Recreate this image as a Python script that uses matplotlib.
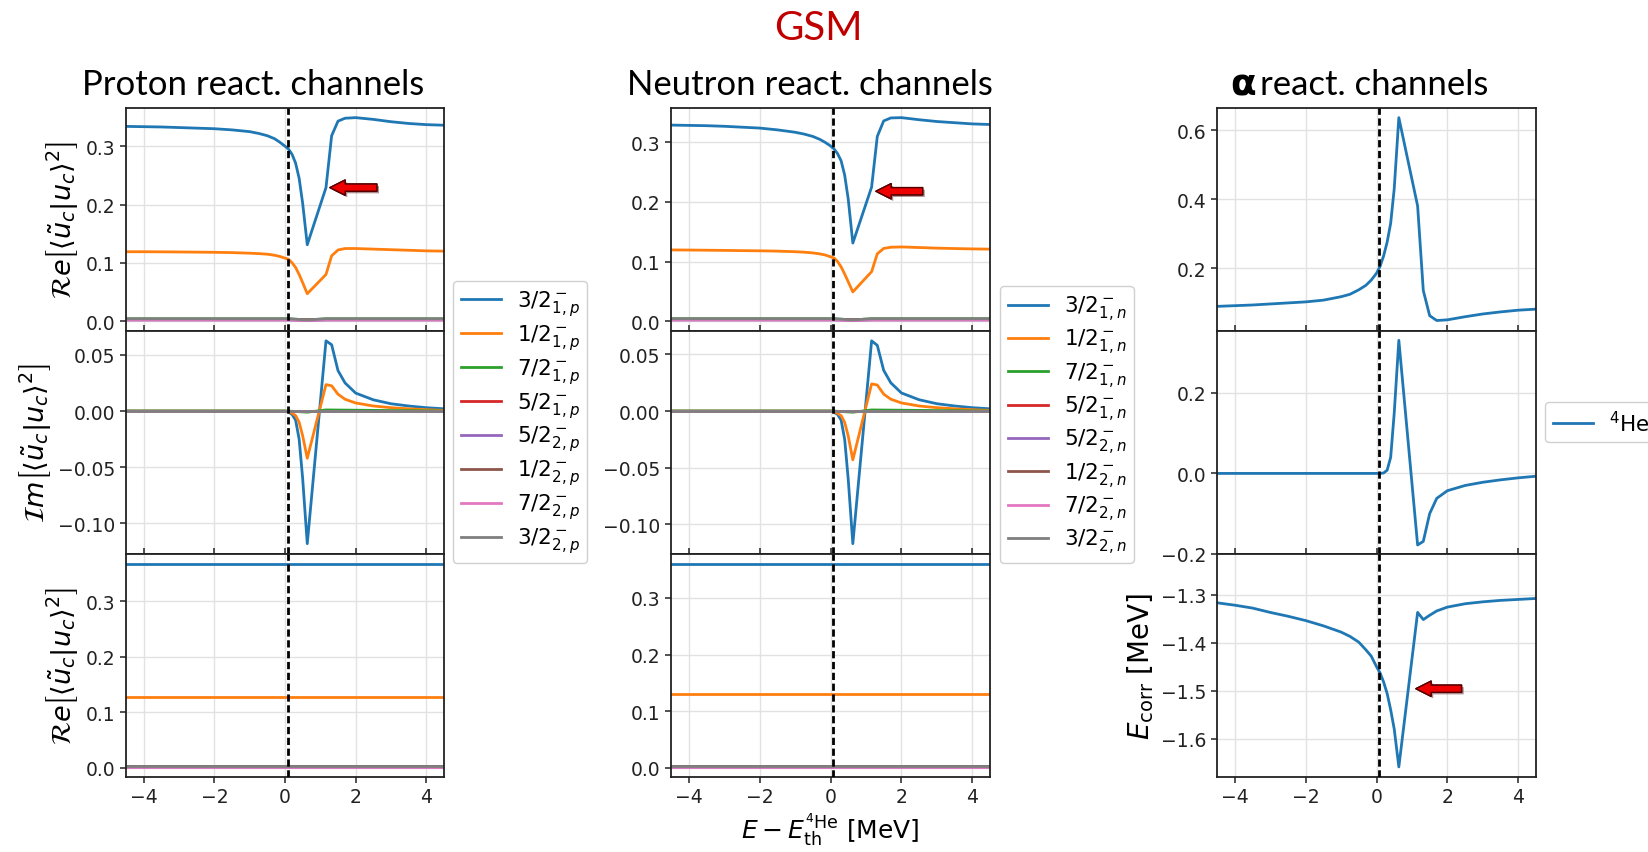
import matplotlib
matplotlib.use("Agg")
import matplotlib.pyplot as plt
import matplotlib.patheffects as pe

W, H = 1648, 853

# ---------------- data ----------------
x_e = [-4.5, -4.0, -3.5, -3.0, -2.5, -2.0, -1.5, -1.0, -0.75, -0.5, -0.3, -0.15,
       0.0, 0.1, 0.2, 0.3, 0.4, 0.5, 0.63, 1.16, 1.32, 1.5, 1.7, 2.0, 2.5, 3.0,
       3.5, 4.0, 4.5]

# proton channels, Re (top)
p_re_32_1 = [0.334, 0.3335, 0.333, 0.332, 0.331, 0.330, 0.328, 0.325, 0.322, 0.318,
             0.313, 0.307, 0.300, 0.295, 0.286, 0.271, 0.245, 0.202, 0.131, 0.229,
             0.318, 0.343, 0.348, 0.349, 0.346, 0.342, 0.339, 0.337, 0.336]
p_re_12_1 = [0.119, 0.119, 0.1188, 0.1186, 0.1183, 0.118, 0.1175, 0.1165, 0.1158,
             0.1148, 0.113, 0.111, 0.108, 0.106, 0.100, 0.092, 0.080, 0.066, 0.047,
             0.080, 0.112, 0.122, 0.1245, 0.1245, 0.1235, 0.1225, 0.1215, 0.1205, 0.120]
# proton channels, Im (middle)
p_im_32_1 = [0, 0, 0, 0, 0, 0, 0, 0, 0, 0, 0, 0, 0, -0.001, -0.003, -0.008, -0.025,
             -0.060, -0.118, 0.0625, 0.059, 0.036, 0.025, 0.016, 0.010, 0.0065,
             0.0045, 0.003, 0.002]
p_im_12_1 = [0, 0, 0, 0, 0, 0, 0, 0, 0, 0, 0, 0, 0, -0.0005, -0.002, -0.004, -0.010,
             -0.022, -0.042, 0.0235, 0.0225, 0.015, 0.0105, 0.0072, 0.0045, 0.003,
             0.002, 0.0012, 0.0006]

# neutron channels
n_re_32_1 = [0.329, 0.3285, 0.328, 0.327, 0.3255, 0.324, 0.321, 0.317, 0.314, 0.310,
             0.305, 0.300, 0.294, 0.289, 0.281, 0.269, 0.245, 0.205, 0.131, 0.225,
             0.310, 0.336, 0.341, 0.3415, 0.338, 0.335, 0.333, 0.331, 0.330]
n_re_12_1 = [0.1195, 0.1193, 0.119, 0.1187, 0.1183, 0.118, 0.1175, 0.1165, 0.1157,
             0.1145, 0.1128, 0.111, 0.108, 0.106, 0.100, 0.091, 0.079, 0.066, 0.049,
             0.083, 0.113, 0.122, 0.124, 0.1245, 0.1235, 0.1225, 0.1218, 0.1212, 0.1208]
n_im_32_1 = [0, 0, 0, 0, 0, 0, 0, 0, 0, 0, 0, 0, 0, -0.001, -0.003, -0.008, -0.025,
             -0.060, -0.117, 0.062, 0.058, 0.036, 0.025, 0.016, 0.010, 0.0065,
             0.0045, 0.003, 0.002]
n_im_12_1 = [0, 0, 0, 0, 0, 0, 0, 0, 0, 0, 0, 0, 0, -0.0005, -0.002, -0.004, -0.010,
             -0.022, -0.043, 0.024, 0.023, 0.015, 0.0105, 0.0072, 0.0045, 0.003,
             0.002, 0.0012, 0.0006]

# alpha channel
a_re = [0.089, 0.091, 0.093, 0.096, 0.099, 0.102, 0.107, 0.117, 0.124, 0.137, 0.150,
        0.165, 0.185, 0.205, 0.235, 0.275, 0.330, 0.430, 0.636, 0.380, 0.135, 0.062,
        0.048, 0.050, 0.059, 0.067, 0.073, 0.078, 0.081]
a_im = [0, 0, 0, 0, 0, 0, 0, 0, 0, 0, 0, 0, 0, 0, 0.001, 0.008, 0.040, 0.150, 0.331,
        -0.178, -0.169, -0.100, -0.062, -0.043, -0.030, -0.022, -0.016, -0.011, -0.007]
a_ecorr = [-1.317, -1.322, -1.328, -1.337, -1.345, -1.354, -1.365, -1.378, -1.387,
           -1.399, -1.415, -1.428, -1.450, -1.463, -1.482, -1.506, -1.540, -1.580,
           -1.659, -1.337, -1.352, -1.343, -1.334, -1.326, -1.319, -1.315, -1.312,
           -1.310, -1.308]

# small channels (nearly zero)
x_minor = [-4.5, 0.1, 0.63, 1.16, 4.5]
re_small = {  # 7/2_1, 5/2_1, 5/2_2, 1/2_2, 7/2_2, 3/2_2
    "g": [0.004, 0.004, 0.002, 0.004, 0.004],
    "r": [0.003, 0.003, 0.002, 0.003, 0.003],
    "pu": [0.002, 0.002, 0.001, 0.002, 0.002],
    "b": [0.003, 0.003, 0.002, 0.003, 0.003],
    "pi": [0.002, 0.002, 0.001, 0.002, 0.002],
    "gr": [0.004, 0.004, 0.002, 0.004, 0.004],
}
im_small_green = [0.0, 0.0, -0.001, 0.001, 0.0]
im_small_zero = [0.0, 0.0, 0.0, 0.0, 0.0]

# bottom panels: flat values
x_flat = [-4.5, 4.5]
p_flat = [0.367, 0.128, 0.004, 0.003, 0.002, 0.003, 0.002, 0.003]
n_flat = [0.360, 0.130, 0.004, 0.003, 0.002, 0.003, 0.002, 0.003]

p_labels = [r"$3/2^-_{1,p}$", r"$1/2^-_{1,p}$", r"$7/2^-_{1,p}$", r"$5/2^-_{1,p}$",
            r"$5/2^-_{2,p}$", r"$1/2^-_{2,p}$", r"$7/2^-_{2,p}$", r"$3/2^-_{2,p}$"]
n_labels = [r"$3/2^-_{1,n}$", r"$1/2^-_{1,n}$", r"$7/2^-_{1,n}$", r"$5/2^-_{1,n}$",
            r"$5/2^-_{2,n}$", r"$1/2^-_{2,n}$", r"$7/2^-_{2,n}$", r"$3/2^-_{2,n}$"]
a_label = r"$^4$He"

x_threshold = 0.08
x_ticks = [-4, -2, 0, 2, 4]

# ---------------- styling ----------------
colors = ["#1f77b4", "#ff7f0e", "#2ca02c", "#d62728", "#9467bd", "#8c564b",
          "#e377c2", "#7f7f7f"]
LW = 2.0
TICK_FS = 13.5
LBL_FS = 19.5

fig = plt.figure(figsize=(W / 100, H / 100), dpi=100)


def make_col(left, right, top, bottom):
    axes = []
    h = (bottom - top) / 3
    for i in range(3):
        t = top + i * h
        ax = fig.add_axes([left / W, 1 - (t + h) / H, (right - left) / W, h / H])
        ax.set_xlim(-4.5, 4.5)
        ax.set_xticks(x_ticks)
        ax.grid(True, color="#e2e2e2", lw=1.0)
        ax.set_axisbelow(True)
        for s in ax.spines.values():
            s.set_color("#222222")
            s.set_linewidth(1.3)
        ax.tick_params(labelsize=TICK_FS, length=4, width=1.1, colors="#222222")
        if i < 2:
            ax.tick_params(axis="x", labelbottom=False, direction="in")
        ax.axvline(x_threshold, color="k", ls=(0, (2.6, 1.3)), lw=2.0, zorder=5)
        axes.append(ax)
    return axes


def draw_channel_col(axes, re32, re12, im32, im12, flat, labels):
    ax1, ax2, ax3 = axes
    ax1.plot(x_e, re32, color=colors[0], lw=LW)
    ax1.plot(x_e, re12, color=colors[1], lw=LW)
    for c, key in zip(colors[2:], ["g", "r", "pu", "b", "pi", "gr"]):
        ax1.plot(x_minor, re_small[key], color=c, lw=LW)
    ax2.plot(x_e, im32, color=colors[0], lw=LW)
    ax2.plot(x_e, im12, color=colors[1], lw=LW)
    ax2.plot(x_minor, im_small_green, color=colors[2], lw=LW)
    for c in colors[3:]:
        ax2.plot(x_minor, im_small_zero, color=c, lw=LW)
    lines = []
    for c, v, lab in zip(colors, flat, labels):
        ln, = ax3.plot(x_flat, [v, v], color=c, lw=LW, label=lab)
        lines.append(ln)
    ax1.set_yticks([0.0, 0.1, 0.2, 0.3])
    ax2.set_yticks([-0.10, -0.05, 0.0, 0.05])
    ax3.set_yticks([0.0, 0.1, 0.2, 0.3])
    return lines


def add_arrow(ax, tip, tail):
    ax.annotate("", xy=tip, xytext=tail,
                arrowprops=dict(arrowstyle="simple,head_length=0.55,head_width=0.55,tail_width=0.26",
                                fc="#ee0000", ec="#550000", lw=1.0, mutation_scale=20,
                                shrinkA=0, shrinkB=0,
                                path_effects=[pe.withSimplePatchShadow(offset=(1.5, -1.5),
                                                                       alpha=0.45),
                                              pe.Normal()]),
                zorder=10)


TOP, BOT = 108.5, 778

# Proton column
pax = make_col(126, 444, TOP, BOT)
plines = draw_channel_col(pax, p_re_32_1, p_re_12_1, p_im_32_1, p_im_12_1, p_flat, p_labels)
ylab_re = r"$\mathcal{R}e\left[\langle\tilde{u}_c|u_c\rangle^2\right]$"
ylab_im = r"$\mathcal{I}m\left[\langle\tilde{u}_c|u_c\rangle^2\right]$"
pax[0].set_ylabel(ylab_re, fontsize=LBL_FS)
pax[1].set_ylabel(ylab_im, fontsize=LBL_FS)
pax[2].set_ylabel(ylab_re, fontsize=LBL_FS)
add_arrow(pax[0], (1.27, 0.229), (2.6, 0.229))

# Neutron column
nax = make_col(671, 990, TOP, BOT)
nlines = draw_channel_col(nax, n_re_32_1, n_re_12_1, n_im_32_1, n_im_12_1, n_flat, n_labels)
add_arrow(nax[0], (1.28, 0.218), (2.6, 0.218))
nax[2].set_xlabel(r"$E - E_{\mathrm{th}}^{^{4}\mathrm{He}}$ [MeV]", fontsize=18, labelpad=3)

# Alpha column
aax = make_col(1217, 1536, TOP, BOT)
aline, = aax[0].plot(x_e, a_re, color=colors[0], lw=LW, label=a_label)
aax[1].plot(x_e, a_im, color=colors[0], lw=LW)
aax[2].plot(x_e, a_ecorr, color=colors[0], lw=LW)
aax[0].set_yticks([0.2, 0.4, 0.6])
aax[1].set_yticks([-0.2, 0.0, 0.2])
aax[1].set_ylim(-0.2, 0.355)
aax[2].set_yticks([-1.6, -1.5, -1.4, -1.3])
aax[2].set_ylim(-1.68, -1.215)
aax[2].set_ylabel(r"$E_{\mathrm{corr}}$ [MeV]", fontsize=LBL_FS + 0.5)
add_arrow(aax[2], (1.11, -1.496), (2.4, -1.496))

# Legends
leg_kw = dict(loc="upper left", bbox_transform=fig.transFigure, fontsize=15.5,
              handlelength=1.9, handletextpad=0.7, labelspacing=0.22, borderpad=0.35,
              borderaxespad=0.0, framealpha=1.0, edgecolor="#d0d0d0")
fig.legend(plines, p_labels, bbox_to_anchor=(453 / W, 1 - 282 / H), **leg_kw)
fig.legend(nlines, n_labels, bbox_to_anchor=(1000 / W, 1 - 287 / H), **leg_kw)
fig.legend([aline], [a_label], bbox_to_anchor=(1545 / W, 1 - 403 / H), **leg_kw)

# Titles
TFONT = ["Lato", "DejaVu Sans"]
fig.text(818 / W, 1 - 28 / H, "GSM", color="#c00000", fontsize=29, family=TFONT,
         ha="center", va="center")
fig.text(253 / W, 1 - 95 / H, "Proton react. channels", fontsize=25, family=TFONT,
         ha="center", va="baseline")
fig.text(810 / W, 1 - 95 / H, "Neutron react. channels", fontsize=25, family=TFONT,
         ha="center", va="baseline")
fig.text(1256 / W, 1 - 95 / H, "α", fontsize=27, family=["DejaVu Sans"], weight="bold",
         ha="right", va="baseline")
fig.text(1260 / W, 1 - 95 / H, "react. channels", fontsize=25, family=TFONT,
         ha="left", va="baseline")

fig.savefig("out.png", dpi=100)
